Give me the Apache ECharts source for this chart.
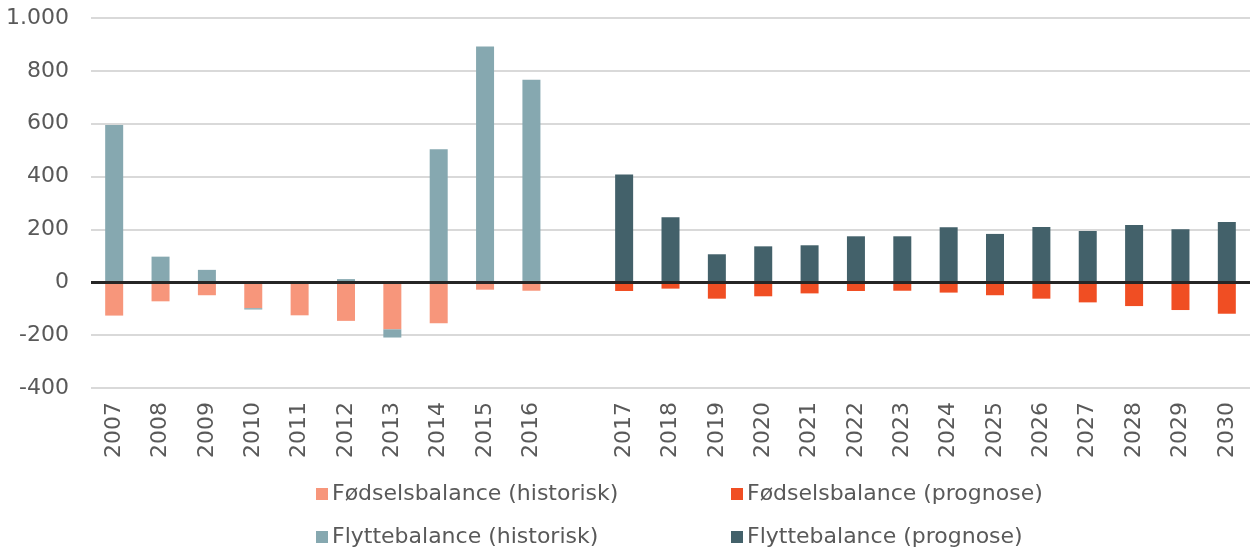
<!DOCTYPE html>
<html>
<head>
<meta charset="utf-8">
<script src="https://cdn.jsdelivr.net/npm/echarts@6/dist/echarts.min.js"></script>
<style>
html,body{margin:0;padding:0;background:#fff;}
#chart{width:1250px;height:554px;}
</style>
</head>
<body>
<div id="chart"></div>
<script>
const categories = ['2007','2008','2009','2010','2011','2012','2013','2014','2015','2016','',
  '2017','2018','2019','2020','2021','2022','2023','2024','2025','2026','2027','2028','2029','2030'];
const foedselHistorisk = [-126,-72,-49,-98,-125,-146,-178,-155,-28,-32,'-',
  '-','-','-','-','-','-','-','-','-','-','-','-','-','-'];
const flytteHistorisk = [595,97,47,-5,2,12,-31,503,892,766,'-',
  '-','-','-','-','-','-','-','-','-','-','-','-','-','-'];
const foedselPrognose = ['-','-','-','-','-','-','-','-','-','-','-',
  -33,-24,-62,-53,-42,-33,-32,-39,-49,-62,-76,-90,-105,-119];
const flyttePrognose = ['-','-','-','-','-','-','-','-','-','-','-',
  408,246,106,136,140,174,174,208,183,209,194,217,201,228];
const yTicks = {min:-400, max:1000, interval:200};
const seriesNames = ['Fødselsbalance (historisk)','Fødselsbalance (prognose)','Flyttebalance (historisk)','Flyttebalance (prognose)'];

const FONT = 'DejaVu Sans';
const TXT = '#595959';
const FS = 22;
const colors = {
  fh: '#F7967B',
  fp: '#F04E23',
  lh: '#86A8B0',
  lp: '#43616A'
};

function fmt(v){
  const s = Math.abs(v).toString().replace(/\B(?=(\d{3})+(?!\d))/g,'.');
  return (v<0?'-':'') + s;
}

function legend(name, left, top){
  return {
    data:[name], left:left, top:top, orient:'horizontal',
    itemWidth:12, itemHeight:12, icon:'rect', itemGap:0,
    selectedMode:false, padding:0,
    textStyle:{fontFamily:FONT, fontSize:FS, color:TXT, padding:[0,0,0,-1]}
  };
}

// colour per split line: only the zero line is drawn dark on the overlay axis
const nTicks = (yTicks.max - yTicks.min) / yTicks.interval + 1;
const zeroLineColors = [];
for (let i = 0; i < nTicks; i++) {
  zeroLineColors.push(yTicks.min + i * yTicks.interval === 0 ? '#262626' : 'rgba(0,0,0,0)');
}

const chart = echarts.init(document.getElementById('chart'), null, {renderer:'canvas'});
const option = {
  animation:false,
  backgroundColor:'#fff',
  grid:{left:91, right:0, top:18, bottom:166, containLabel:false, outerBoundsMode:'none'},
  legend:[
    legend(seriesNames[0], 316, 483),
    legend(seriesNames[1], 731, 483),
    legend(seriesNames[2], 316, 526),
    legend(seriesNames[3], 731, 526)
  ],
  xAxis:{
    type:'category', data:categories,
    axisLine:{show:false, onZero:false},
    axisTick:{show:false},
    axisLabel:{rotate:90, margin:14, fontFamily:FONT, fontSize:FS, color:TXT, interval:0},
    splitLine:{show:false}
  },
  yAxis:[{
    type:'value', min:yTicks.min, max:yTicks.max, interval:yTicks.interval,
    axisLine:{show:false}, axisTick:{show:false},
    axisLabel:{formatter:fmt, margin:22, fontFamily:FONT, fontSize:FS, color:TXT},
    splitLine:{lineStyle:{color:'#D9D9D9', width:2}}
  },{
    type:'value', min:yTicks.min, max:yTicks.max, interval:yTicks.interval, position:'left',
    axisLine:{show:false}, axisTick:{show:false}, axisLabel:{show:false},
    splitLine:{show:true, lineStyle:{color:zeroLineColors, width:3}},
    z:10
  }],
  series:[
    {name:seriesNames[0], type:'bar', stack:'s', data:foedselHistorisk, barWidth:18, itemStyle:{color:colors.fh}},
    {name:seriesNames[2], type:'bar', stack:'s', data:flytteHistorisk, barWidth:18, itemStyle:{color:colors.lh}},
    {name:seriesNames[1], type:'bar', stack:'s', data:foedselPrognose, barWidth:18, itemStyle:{color:colors.fp}},
    {name:seriesNames[3], type:'bar', stack:'s', data:flyttePrognose, barWidth:18, itemStyle:{color:colors.lp}}
  ]
};
chart.setOption(option);
</script>
</body>
</html>
